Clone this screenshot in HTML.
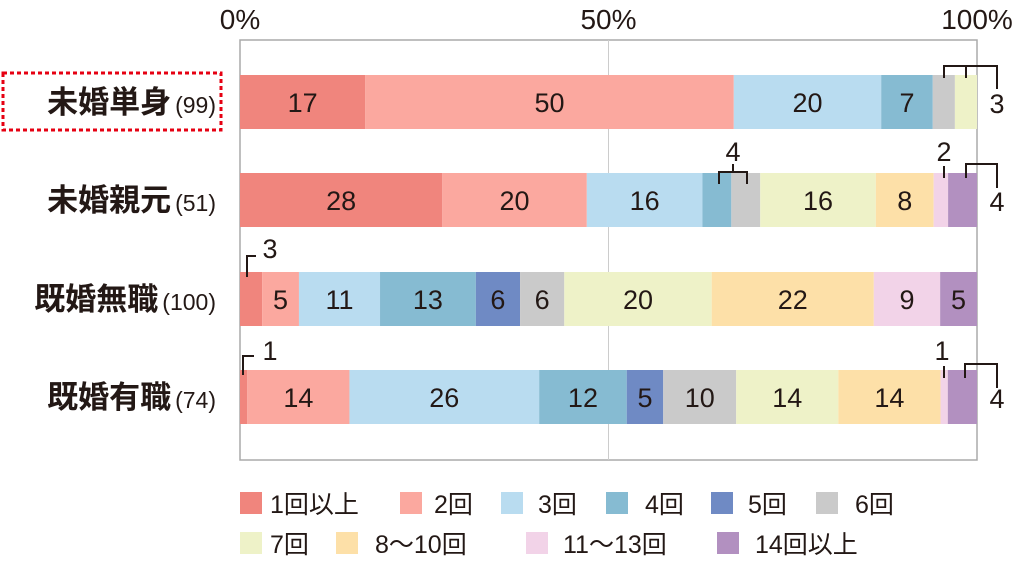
<!DOCTYPE html>
<html><head><meta charset="utf-8"><style>
body{margin:0;background:#fff;}
svg text{font-family:"Liberation Sans","Noto Sans CJK JP",sans-serif;fill:#231815;}
</style></head><body>
<svg id="c" width="1024" height="560">
<g id="g"></g>
</svg>
<script>
const categories=["未婚単身","未婚親元","既婚無職","既婚有職"];
const counts=["(99)","(51)","(100)","(74)"];
const seriesNames=["1回以上","2回","3回","4回","5回","6回","7回","8〜10回","11〜13回","14回以上"];
const colors=["#f0857d","#fba89f","#b9dcf0","#86bbd2","#6f8ac4","#cacaca","#eef2c8","#fde0a8","#f2d3e8","#b290c0"];
const row1=[17,50,20,7,0,3,3,0,0,0];
const row2=[28,20,16,4,0,4,16,8,2,4];
const row3=[3,5,11,13,6,6,20,22,9,5];
const row4=[1,14,26,12,5,10,14,14,1,4];
const rows=[row1,row2,row3,row4];
const ticks=["0%","50%","100%"];
const tickVals=[0,50,100];

const NS="http://www.w3.org/2000/svg";
const g=document.getElementById('g');
const X0=240,W=737,rowY=[75,173,272,370],BH=54;
const xs=p=>X0+p/100*W;
function el(t,a,txt){const e=document.createElementNS(NS,t);for(const k in a)e.setAttribute(k,a[k]);if(txt!==undefined)e.textContent=txt;g.appendChild(e);return e;}
let f=el('rect',{x:X0,y:40,width:W,height:420,fill:'none',stroke:'#aaa','stroke-width':1.5});


let ml=el('line',{x1:xs(50),x2:xs(50),y1:40,y2:460,stroke:'#ccc','stroke-width':1});


tickVals.forEach((v,i)=>{
 const t=el('text',{x:xs(v),y:29,'font-size':28,'text-anchor':'middle'},ticks[i]);
 
 
});
rows.forEach((r,ri)=>{
 const sum=r.reduce((a,b)=>a+b,0);
 let acc=0;const y=rowY[ri];
 r.forEach((v,si)=>{
  if(!v)return;
  const x1=xs(acc/sum*100),x2=xs((acc+v)/sum*100);acc+=v;
  const b=el('rect',{x:x1,y:y,width:x2-x1,height:BH,fill:colors[si]});
  
  
  if(v>=5){
   const t=el('text',{x:(x1+x2)/2,y:y+BH/2+10,'font-size':27,'text-anchor':'middle'},v);
   
   
  }
 });
 const lab=el('text',{x:216,y:y+BH/2+11,'font-size':31,'font-weight':'bold','text-anchor':'end'});
 
 
 const s1=document.createElementNS(NS,'tspan');s1.textContent=categories[ri];lab.appendChild(s1);
 const s2=document.createElementNS(NS,'tspan');s2.setAttribute('font-size','23');s2.setAttribute('font-weight','normal');s2.setAttribute('dx','4');s2.textContent=counts[ri];lab.appendChild(s2);
});
let hb=el('rect',{x:3,y:73,width:218,height:57,fill:'none',stroke:'#e60012','stroke-width':3,'stroke-dasharray':'4,3'});


function P(d){const p=el('path',{d:d,fill:'none',stroke:'#231815','stroke-width':2});}
function T(x,y,s){const t=el('text',{x:x,y:y,'font-size':27,'text-anchor':'middle'},s);}
P('M944 78V66H997V89M966 66V78');T(997,113,'3');
P('M719 184V172H747V184M733 172V164');T(733,161,'4');
P('M944 166V178');T(944,161,'2');
P('M966 178V164H997V188');T(997,211,'4');
P('M247 277V256H256');T(270,258,'3');
P('M243 375V356H254');T(270,360,'1');
P('M944 366V378');T(942,360,'1');
P('M965 378V364H997V388');T(997,408,'4');
const legX=[[240,270],[400,434],[501,538],[606,645],[711,748],[816,855],[240,270],[336,375],[526,563],[717,755]];
seriesNames.forEach((n,i)=>{
 const ly=i<6?492:532;
 const s=el('rect',{x:legX[i][0],y:ly,width:22,height:22,fill:colors[i]});
 
 
 const t=el('text',{x:legX[i][1],y:ly+21,'font-size':25},n);
 
 
});
</script>
</body></html>
